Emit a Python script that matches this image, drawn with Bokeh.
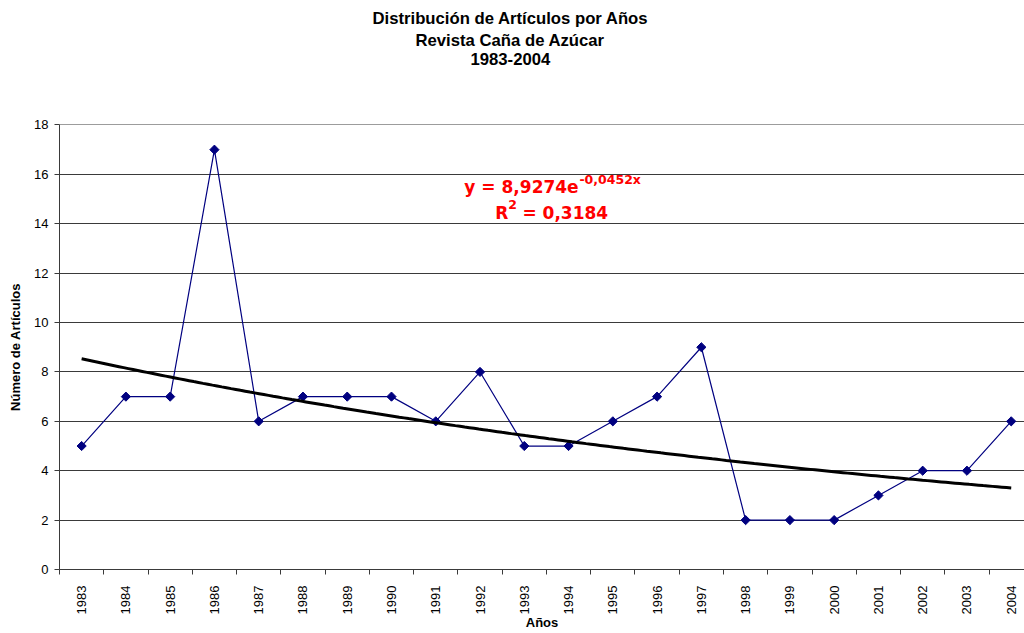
import math
import numpy as np
from bokeh.plotting import figure
from bokeh.models import FixedTicker, Label, Range1d, Title
from bokeh.embed import file_html
from bokeh.resources import INLINE

# ---- data ----
years = ["1983", "1984", "1985", "1986", "1987", "1988", "1989", "1990", "1991", "1992", "1993",
         "1994", "1995", "1996", "1997", "1998", "1999", "2000", "2001", "2002", "2003", "2004"]
articles = [5, 7, 7, 17, 6, 7, 7, 7, 6, 8, 5, 5, 6, 7, 9, 2, 2, 2, 3, 4, 4, 6]
y_ticks = [0, 2, 4, 6, 8, 10, 12, 14, 16, 18]
title_lines = ["Distribución de Artículos por Años", "Revista Caña de Azúcar", "1983-2004"]
# exponential trend line coefficients as printed on the chart
TREND_A = 8.9274
TREND_B = -0.0452

x = list(range(1, len(years) + 1))

p = figure(width=1024, height=633, output_backend="svg", toolbar_location=None,
           x_range=Range1d(0.5, 22.3), y_range=Range1d(0, 18.02),
           min_border_left=59, min_border_right=0, min_border_top=124, min_border_bottom=64)
p.outline_line_color = None
p.background_fill_color = "white"
p.border_fill_color = "white"

AX = "#3a3a3a"
p.xgrid.visible = False
p.ygrid.ticker = FixedTicker(ticks=y_ticks)
p.ygrid.grid_line_color = AX
p.ygrid.grid_line_width = 1

# y axis
ya = p.yaxis[0]
ya.ticker = FixedTicker(ticks=y_ticks)
ya.axis_line_color = AX
ya.major_tick_line_color = AX
ya.major_tick_out = 5
ya.major_tick_in = 0
ya.minor_tick_out = 0
ya.minor_tick_in = 0
ya.major_label_text_font = "Liberation Sans"
ya.major_label_text_font_size = "13px"
ya.major_label_text_color = "black"
ya.major_label_standoff = 6
ya.axis_label = "Número de Artículos"
ya.axis_label_text_font = "Liberation Sans"
ya.axis_label_text_font_size = "13px"
ya.axis_label_text_font_style = "bold"
ya.axis_label_text_color = "black"
ya.axis_label_standoff = 8

# x axis: labels at category centres, tick marks between categories
xa = p.xaxis[0]
xa.ticker = FixedTicker(ticks=x, minor_ticks=[i + 0.5 for i in range(0, len(years) + 1)])
xa.major_label_overrides = {i: y for i, y in zip(x, years)}
xa.axis_line_color = AX
xa.major_tick_out = 0
xa.major_tick_in = 0
xa.minor_tick_out = 5
xa.minor_tick_in = 0
xa.minor_tick_line_color = AX
xa.major_label_orientation = math.pi / 2
xa.major_label_text_font = "Liberation Sans"
xa.major_label_text_font_size = "13px"
xa.major_label_text_color = "black"
xa.major_label_standoff = 11
xa.axis_label = "Años"
xa.axis_label_text_font = "Liberation Sans"
xa.axis_label_text_font_size = "13px"
xa.axis_label_text_font_style = "bold"
xa.axis_label_text_color = "black"
xa.axis_label_standoff = -2

# data series
p.line(x, articles, line_color="#000080", line_width=1.2)
p.scatter(x, articles, marker="square", angle=math.pi / 4, size=6.5,
          fill_color="#000080", line_color="#000080")

# exponential trend line
xs = np.linspace(1, len(years), 200)
ys = TREND_A * np.exp(TREND_B * xs)
p.line(xs, ys, line_color="black", line_width=3)

# spacer between plot area and title block (white on white)
p.add_layout(Title(text=" ", standoff=38, text_font="Liberation Sans", text_font_size="16.7px",
                   text_color="white"), "above")
# title: three lines, nearest-to-frame first
title_offsets = [313, 356, 411]
for txt, off in reversed(list(zip(title_lines, title_offsets))):
    p.add_layout(Title(text=txt, align="left", offset=off, standoff=1,
                       text_font="Liberation Sans", text_font_style="bold", text_font_size="16.7px",
                       text_color="black"), "above")

# trend equation
RED = "#ff0000"
eq_parts = [
    (9.646, 15.49, "y = 8,9274e", "17px"),
    (12.245, 15.81, "-0,0452x", "12.5px"),
    (10.346, 14.43, "R", "17px"),
    (10.64, 14.80, "2", "12.5px"),
    (10.957, 14.43, "= 0,3184", "17px"),
]
for ex, ey, txt, fs in eq_parts:
    p.add_layout(Label(x=ex, y=ey, text=txt, text_align="left", text_baseline="alphabetic",
                       text_font="DejaVu Sans", text_font_style="bold", text_font_size=fs,
                       text_color=RED))

open("out.html", "w").write(file_html(p, INLINE))
